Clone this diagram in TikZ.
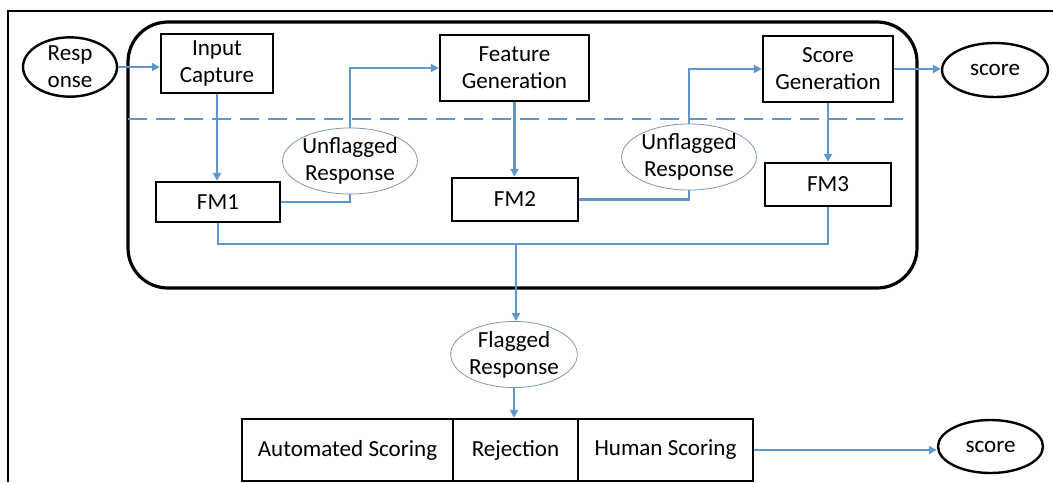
\documentclass[tikz,border=0pt]{standalone}
\usepackage{fontspec}
\setmainfont{Carlito}
\usetikzlibrary{arrows.meta,shapes.geometric}
\definecolor{flowblue}{RGB}{96,150,204}
\definecolor{ovalline}{RGB}{120,150,185}
\tikzset{
  every node/.style={font=\fontsize{17.3}{20.25}\selectfont, align=center, inner sep=0pt},
  blackbox/.style={draw=black, line width=1.8pt, rectangle},
  blackoval/.style={draw=black, line width=1.8pt, ellipse},
  blueoval/.style={draw=ovalline, line width=0.6pt, ellipse},
  flow/.style={draw=flowblue, line width=1.8pt},
  flowarrow/.style={flow, -{Triangle[length=6pt,width=6pt]}},
}
\begin{document}
\begin{tikzpicture}[x=0.75pt,y=-0.75pt]
\useasboundingbox (0,0) rectangle (1053,482);
% partial outer frame
\draw[line width=1pt] (1053,11) -- (8,11) -- (8,482);
% big rounded container
\draw[line width=2.4pt, rounded corners=30pt] (128,22) rectangle (917,288);
% dashed separator
\draw[flowblue, line width=2.2pt, dash pattern=on 14pt off 7pt] (128,119) -- (912,119);

% nodes
\node[blackoval, minimum width=70.5pt, minimum height=43.5pt] (resp) at (70,67) {Resp\\onse};
\node[blackbox, minimum width=84pt, minimum height=44.25pt] (ic) at (217,63.5) {Input\\Capture};
\node[blackbox, minimum width=93pt, minimum height=30pt] (fm1) at (218,202) {FM1};
\node[blueoval, minimum width=93pt, minimum height=49.5pt] (u1) at (350,161) {Unflagged\\Response};
\node[blackbox, minimum width=111.75pt, minimum height=49.5pt] (fg) at (514.5,68) {Feature\\Generation};
\node[blackbox, minimum width=94.5pt, minimum height=32.25pt] (fm2) at (515,199.5) {FM2};
\node[blueoval, minimum width=93pt, minimum height=49.5pt] (u2) at (689,157) {Unflagged\\Response};
\node[blackbox, minimum width=97.5pt, minimum height=49.5pt] (sg) at (828,69) {Score\\Generation};
\node[blackoval, minimum width=79.5pt, minimum height=40.5pt] (sc1) at (995,70) {score};
\node[blackbox, minimum width=94.5pt, minimum height=32.25pt] (fm3) at (828,184.5) {FM3};
\node[blueoval, minimum width=93pt, minimum height=48.75pt] (fr) at (514,354.5) {Flagged\\Response};
\node[blackbox, minimum width=158.25pt, minimum height=46.5pt] (as) at (347.5,450) {Automated Scoring};
\node[blackbox, minimum width=93.75pt, minimum height=46.5pt] (rej) at (515.5,450) {Rejection};
\node[blackbox, minimum width=131.25pt, minimum height=46.5pt] (hs) at (665.5,450) {Human Scoring};
\node[blackoval, minimum width=78.75pt, minimum height=39.75pt] (sc2) at (990.5,446.5) {score};
\coordinate (jn) at (516,244);

% connectors
\draw[flowarrow] (resp.east) -- (resp.east -| ic.west);
\draw[flowarrow] (ic.south) -- (ic.south |- fm1.north);
\draw[flow] (fm1.east) -| (u1.south);
\draw[flowarrow] (u1.north) |- (fg.west);
\draw[flowarrow] (fg.south) -- (fg.south |- fm2.north);
\draw[flow] (fm2.east) -| (u2.south);
\draw[flowarrow] (u2.north) |- (sg.west);
\draw[flowarrow] (sg.east) -- (sg.east -| sc1.west);
\draw[flowarrow] (sg.south) -- (fm3.north);
\draw[flow] (fm1.south) |- (jn) -| (fm3.south);
\draw[flowarrow] (jn) -- (jn |- fr.north);
\draw[flowarrow] (fr.south) -- (fr.south |- rej.north);
\draw[flowarrow] (hs.east) -- (hs.east -| sc2.west);
\end{tikzpicture}
\end{document}
